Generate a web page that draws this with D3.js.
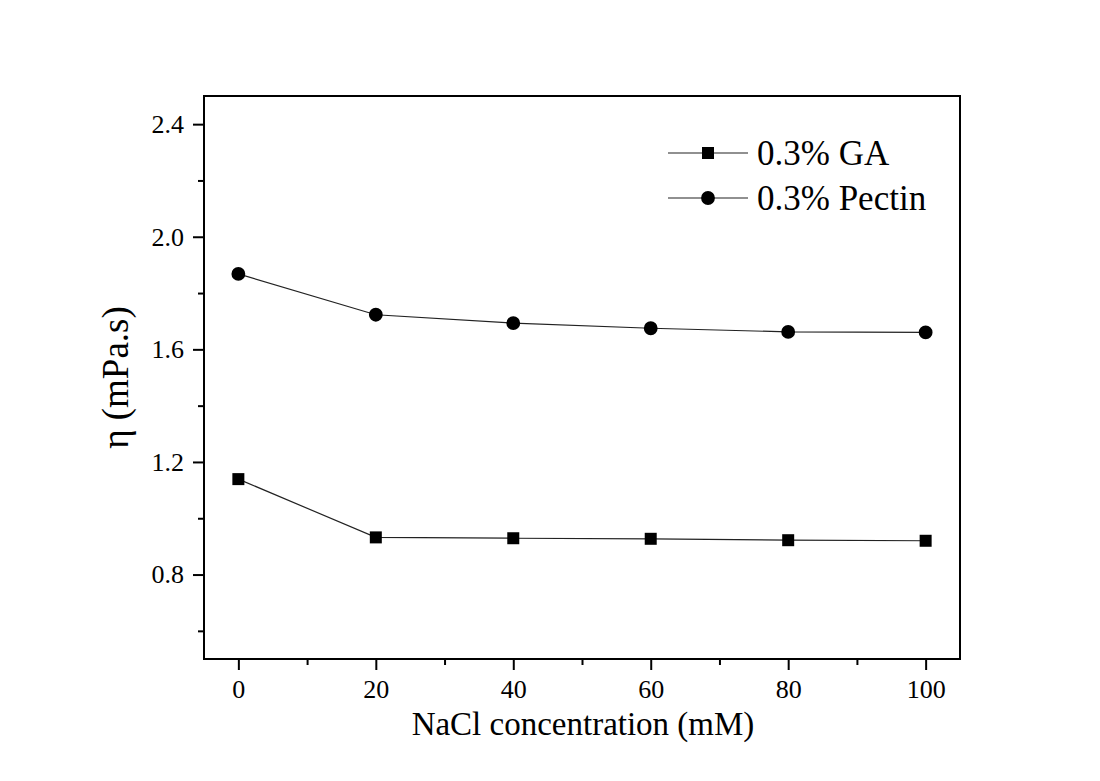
<!DOCTYPE html>
<html>
<head>
<meta charset="utf-8">
<script src="https://cdn.jsdelivr.net/npm/d3@7/dist/d3.min.js"></script>
<style>
  body { margin: 0; background: #fff; }
  text { font-family: "Liberation Serif", "Times New Roman", serif; fill: #000; }
</style>
</head>
<body>
<div id="chart"></div>
<script>
// donnees
const nacl = [0, 20, 40, 60, 80, 100];
const gaValues = [1.139, 0.932, 0.929, 0.927, 0.922, 0.920];
const pectinValues = [1.868, 1.723, 1.693, 1.675, 1.662, 1.660];
const xTicks = [0, 20, 40, 60, 80, 100];
const yTicks = [0.8, 1.2, 1.6, 2.0, 2.4];
const seriesNames = ["0.3% GA", "0.3% Pectin"];

const svg = d3.select("#chart")
  .append("svg")
  .attr("width", 1100)
  .attr("height", 781);

//------marges du cadre
const margin = { top: 96, left: 204, right: 140, bottom: 122 };
const width = 1100 - margin.left - margin.right;
const height = 781 - margin.top - margin.bottom;

const chart = svg.append("g")
  .attr("transform", `translate(${margin.left},${margin.top})`);

const xScale = d3.scaleLinear().domain([-5, 105]).range([0, width]);
const yScale = d3.scaleLinear().domain([0.5, 2.5]).range([height, 0]);

//------ticks mineurs
chart.append("g")
  .attr("transform", `translate(0,${height})`)
  .call(d3.axisBottom(xScale).tickValues(d3.range(10, 100, 20)).tickSize(6).tickFormat(""))
  .call(g => g.select(".domain").remove())
  .selectAll("line").attr("stroke-width", 2);

chart.append("g")
  .call(d3.axisLeft(yScale).tickValues([0.6, 1.0, 1.4, 1.8, 2.2]).tickSize(6).tickFormat(""))
  .call(g => g.select(".domain").remove())
  .selectAll("line").attr("stroke-width", 2);

//------axe x
const xAxis = chart.append("g")
  .attr("transform", `translate(0,${height})`)
  .call(d3.axisBottom(xScale).tickValues(xTicks).tickSize(11).tickPadding(10).tickFormat(d3.format("d")));
xAxis.select(".domain").remove();
xAxis.selectAll("line").attr("stroke-width", 2);
xAxis.selectAll("text")
  .style("font-family", "Liberation Serif")
  .style("font-size", "26px");

//------axe y
const yAxis = chart.append("g")
  .call(d3.axisLeft(yScale).tickValues(yTicks).tickSize(11).tickPadding(9).tickFormat(d3.format(".1f")));
yAxis.select(".domain").remove();
yAxis.selectAll("line").attr("stroke-width", 2);
yAxis.selectAll("text")
  .style("font-family", "Liberation Serif")
  .style("font-size", "26px");

//------cadre
chart.append("rect")
  .attr("x", 0)
  .attr("y", 0)
  .attr("width", width)
  .attr("height", height)
  .attr("fill", "none")
  .attr("stroke", "#000")
  .attr("stroke-width", 2);

//------titres des axes
svg.append("text")
  .attr("x", 583)
  .attr("y", 735)
  .attr("text-anchor", "middle")
  .style("font-size", "33px")
  .text("NaCl concentration (mM)");

svg.append("text")
  .attr("transform", `translate(128,${margin.top + height / 2}) rotate(-90)`)
  .attr("text-anchor", "middle")
  .style("font-size", "37px")
  .text("η (mPa.s)");

//------series
const series = [
  { name: seriesNames[0], values: gaValues, shape: d3.symbolSquare },
  { name: seriesNames[1], values: pectinValues, shape: d3.symbolCircle }
];

const line = d3.line()
  .x(d => xScale(d.x))
  .y(d => yScale(d.y));

series.forEach(s => {
  const pts = nacl.map((x, i) => ({ x: x, y: s.values[i] }));
  chart.append("path")
    .datum(pts)
    .attr("fill", "none")
    .attr("stroke", "#222")
    .attr("stroke-width", 1.2)
    .attr("d", line);
  chart.selectAll(null)
    .data(pts)
    .enter()
    .append("path")
    .attr("transform", d => `translate(${xScale(d.x)},${yScale(d.y)})`)
    .attr("d", d3.symbol().type(s.shape).size(s.shape === d3.symbolSquare ? 144 : 150))
    .attr("fill", "#000");
});

//------legende
const legende = svg.append("g")
  .selectAll("g")
  .data(series)
  .enter()
  .append("g")
  .attr("transform", (d, i) => `translate(668,${153 + i * 45})`);

legende.append("line")
  .attr("x1", 0)
  .attr("x2", 80)
  .attr("stroke", "#222")
  .attr("stroke-width", 1.2);

legende.append("path")
  .attr("transform", "translate(40,0)")
  .attr("d", d => d3.symbol().type(d.shape).size(d.shape === d3.symbolSquare ? 144 : 150)())
  .attr("fill", "#000");

legende.append("text")
  .attr("x", 89)
  .attr("y", 0)
  .attr("dy", "0.35em")
  .style("font-size", "35px")
  .text(d => d.name);
</script>
</body>
</html>
